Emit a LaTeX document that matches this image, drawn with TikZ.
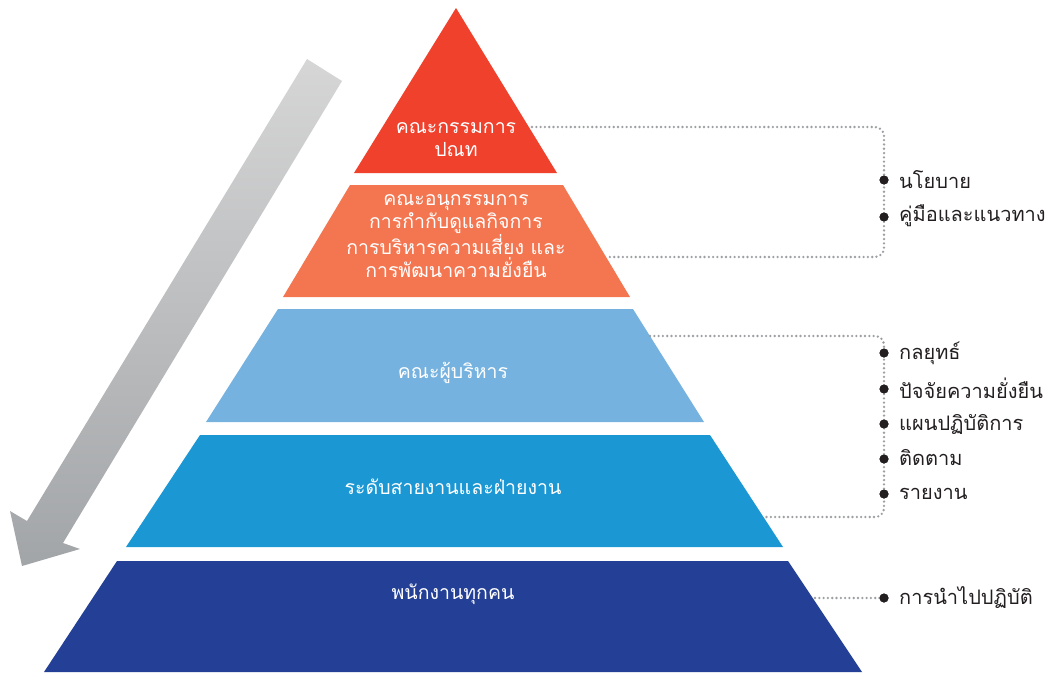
\documentclass[tikz,border=0pt]{standalone}
\usepackage{fontspec}
\newfontfamily\thai[Script=Thai]{Loma}
\definecolor{cred}{HTML}{EF412C}
\definecolor{corange}{HTML}{F37651}
\definecolor{clight}{HTML}{76B2DF}
\definecolor{cblue}{HTML}{1B97D4}
\definecolor{cnavy}{HTML}{233F96}
\definecolor{cdark}{HTML}{231F20}
\definecolor{cdot}{HTML}{9D9FA2}
\definecolor{arrtop}{HTML}{D6D6D6}
\definecolor{arrbot}{HTML}{A2A5A8}
\tikzset{
  layertext/.style={text=white, align=center, font=\thai\fontsize{19.5}{23}\selectfont, inner sep=0pt},
  itemtext/.style={text=cdark, anchor=west, font=\thai\fontsize{20}{23}\selectfont, inner sep=0pt},
  bullet/.style={circle, fill=cdark, minimum size=9pt, inner sep=0pt},
  dotline/.style={draw=cdot, line width=2.6pt, dash pattern=on 0pt off 4.3pt, line cap=round, rounded corners=9pt}
}
\begin{document}
\begin{tikzpicture}[x=1pt,y=-1pt]
\useasboundingbox (0,0) rectangle (1051,672);
% arrow
\shade[top color=arrtop, bottom color=arrbot]
  (307,59) -- (342,81) -- (63,543) -- (80,549) -- (22,566) -- (10,511) -- (27,521) -- cycle;
% pyramid layers
\fill[cred] (456,8) -- (557,173) -- (354,173) -- cycle;
\fill[corange] (350,185) -- (563,185) -- (630,297) -- (283,297) -- cycle;
\fill[clight] (278,309) -- (633,309) -- (704,422) -- (206,422) -- cycle;
\fill[cblue] (200,435) -- (710,435) -- (783,547) -- (126,547) -- cycle;
\fill[cnavy] (117,561) -- (788,561) -- (862,672) -- (44,672) -- cycle;
% layer texts
\node[layertext] (l1) at (456,140) {คณะกรรมการ\\ปณท};
\node[layertext] (l2) at (456,236) {คณะอนุกรรมการ\\การกำกับดูแลกิจการ\\การบริหารความเสี่ยง และ\\การพัฒนาความยั่งยืน};
\node[layertext] (l3) at (453,373) {คณะผู้บริหาร};
\node[layertext] (l4) at (453,487) {ระดับสายงานและฝ่ายงาน};
\node[layertext] (l5) at (453,594) {พนักงานทุกคน};
% bullets
\node[bullet] (b1) at (884,180) {};
\node[bullet] (b2) at (884,217) {};
\node[bullet] (b3) at (884,353) {};
\node[bullet] (b4) at (884,389) {};
\node[bullet] (b5) at (884,424) {};
\node[bullet] (b6) at (884,459) {};
\node[bullet] (b7) at (884,494) {};
\node[bullet] (b8) at (884,598) {};
% items
\node[itemtext] (t1) at (899,180) {นโยบาย};
\node[itemtext] (t2) at (899,216) {คู่มือและแนวทาง};
\node[itemtext] (t3) at (899,353) {กลยุทธ์};
\node[itemtext] (t4) at (899,388) {ปัจจัยความยั่งยืน};
\node[itemtext] (t5) at (899,424) {แผนปฏิบัติการ};
\node[itemtext] (t6) at (899,458) {ติดตาม};
\node[itemtext] (t7) at (899,494) {รายงาน};
\node[itemtext] (t8) at (899,598) {การนำไปปฏิบัติ};
% bracket anchor coordinates
\coordinate (s1) at (532,127);
\coordinate (e1) at (608,257);
\coordinate (s2) at (650,336);
\coordinate (e2) at (765,517);
\coordinate (s3) at (815,598);
% dotted brackets
\draw[dotline] (s1) -- (b1.center |- s1) -- (b1.center |- e1) -- (e1);
\draw[dotline] (s2) -- (b3.center |- s2) -- (b3.center |- e2) -- (e2);
\draw[dotline] (s3) -- (b8.center);
% bullets on top
\foreach \b in {b1,b2,b3,b4,b5,b6,b7,b8} \fill[cdark] (\b) circle (4.5pt);
\end{tikzpicture}
\end{document}
